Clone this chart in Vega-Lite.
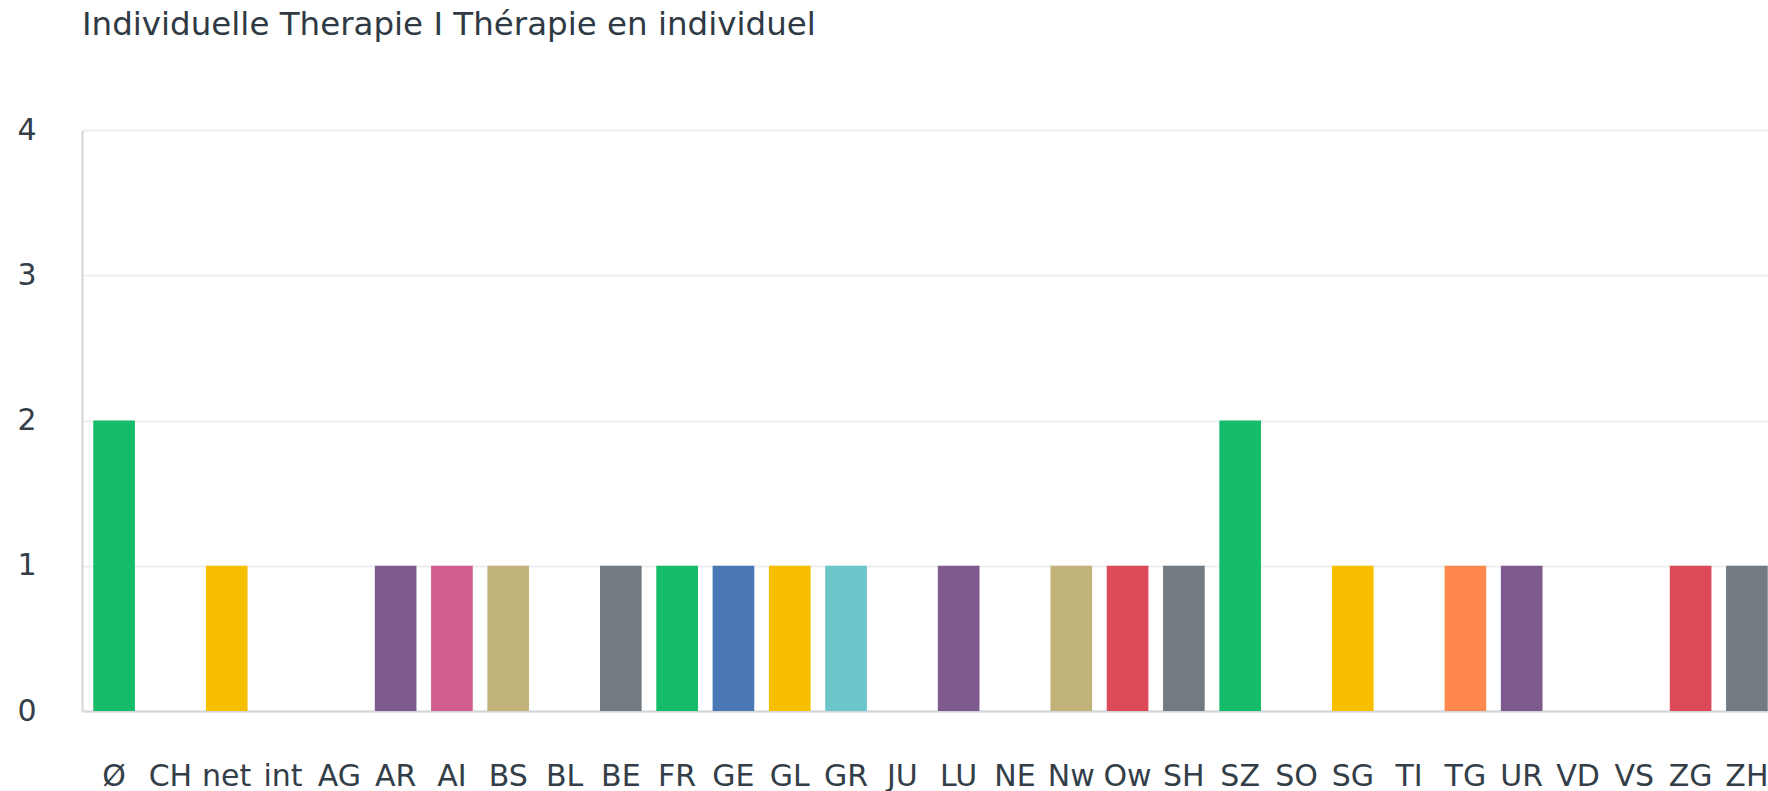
{
  "$schema": "https://vega.github.io/schema/vega-lite/v6.json",
  "width": 1697,
  "height": 581,
  "autosize": {"type": "none"},
  "padding": {"left": 82, "top": 130, "right": 0, "bottom": 80},
  "background": "white",
  "title": {
    "text": "Individuelle Therapie I Thérapie en individuel",
    "anchor": "start",
    "frame": "group",
    "font": "DejaVu Sans",
    "fontSize": 32.5,
    "fontWeight": "normal",
    "color": "#2f3a44",
    "baseline": "alphabetic",
    "offset": 48
  },
  "data": {
    "values": [
      {"k": "Ø", "v": 2}, {"k": "CH", "v": 0}, {"k": "net", "v": 1}, {"k": "int", "v": 0},
      {"k": "AG", "v": 0}, {"k": "AR", "v": 1}, {"k": "AI", "v": 1}, {"k": "BS", "v": 1},
      {"k": "BL", "v": 0}, {"k": "BE", "v": 1}, {"k": "FR", "v": 1}, {"k": "GE", "v": 1},
      {"k": "GL", "v": 1}, {"k": "GR", "v": 1}, {"k": "JU", "v": 0}, {"k": "LU", "v": 1},
      {"k": "NE", "v": 0}, {"k": "Nw", "v": 1}, {"k": "Ow", "v": 1}, {"k": "SH", "v": 1},
      {"k": "SZ", "v": 2}, {"k": "SO", "v": 0}, {"k": "SG", "v": 1}, {"k": "TI", "v": 0},
      {"k": "TG", "v": 1}, {"k": "UR", "v": 1}, {"k": "VD", "v": 0}, {"k": "VS", "v": 0},
      {"k": "ZG", "v": 1}, {"k": "ZH", "v": 1}
    ]
  },
  "mark": {"type": "bar"},
  "encoding": {
    "x": {
      "field": "k",
      "type": "nominal",
      "sort": null,
      "scale": {"paddingInner": 0.26, "paddingOuter": 0.2},
      "axis": {
        "title": null,
        "labelAngle": 0,
        "labelFont": "DejaVu Sans",
        "labelFontSize": 30,
        "labelColor": "#333e48",
        "labelPadding": 50,
        "labelOverlap": false,
        "ticks": false,
        "domainColor": "#d3d6d8",
        "domainWidth": 2,
        "grid": false
      }
    },
    "y": {
      "field": "v",
      "type": "quantitative",
      "scale": {"domain": [0, 4]},
      "axis": {
        "title": null,
        "values": [0, 1, 2, 3, 4],
        "labelFont": "DejaVu Sans",
        "labelFontSize": 30,
        "labelColor": "#333e48",
        "labelPadding": 46,
        "ticks": false,
        "domainColor": "#d3d6d8",
        "domainWidth": 2,
        "gridColor": "#eceeef",
        "gridWidth": 2
      }
    },
    "color": {
      "field": "k",
      "type": "nominal",
      "sort": null,
      "legend": null,
      "scale": {
        "domain": ["Ø","CH","net","int","AG","AR","AI","BS","BL","BE","FR","GE","GL","GR","JU","LU","NE","Nw","Ow","SH","SZ","SO","SG","TI","TG","UR","VD","VS","ZG","ZH"],
        "range": ["#15bd6a","#4a78b4","#f8be00","#6ac6c8","#ff884c","#7f5a8e","#d35d8d","#c2b37b","#dc4a58","#737b82",
                  "#15bd6a","#4a78b4","#f8be00","#6ac6c8","#ff884c","#7f5a8e","#d35d8d","#c2b37b","#dc4a58","#737b82",
                  "#15bd6a","#4a78b4","#f8be00","#6ac6c8","#ff884c","#7f5a8e","#d35d8d","#c2b37b","#dc4a58","#737b82"]
      }
    }
  },
  "config": {"view": {"stroke": null}}
}
